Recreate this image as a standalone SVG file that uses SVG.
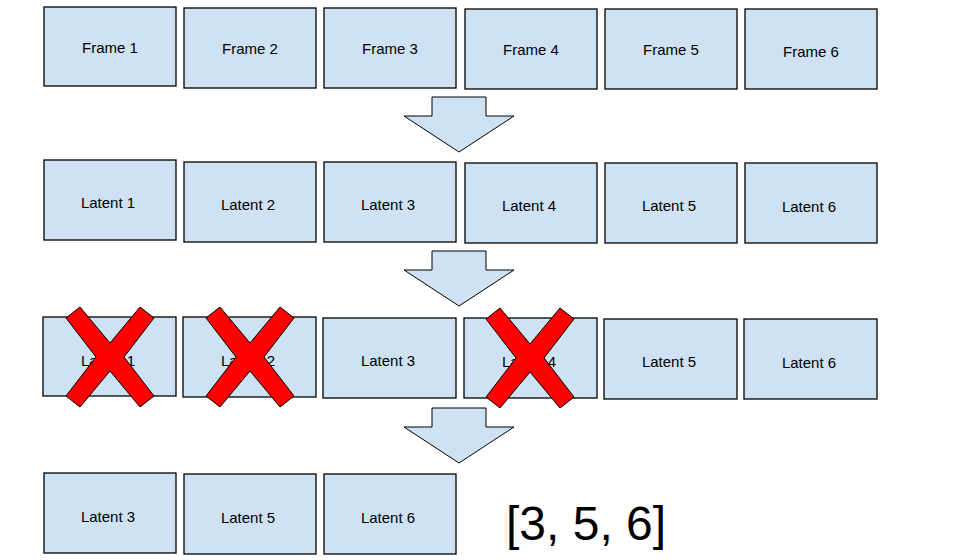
<svg xmlns="http://www.w3.org/2000/svg" width="960" height="560" viewBox="0 0 960 560">
<style>
.b rect{fill:#cfe2f3;stroke:#000;stroke-width:1.3}
.b text{font-family:"Liberation Sans",Arial,sans-serif;font-size:15px;text-anchor:middle;fill:#000}
.ar{fill:#cfe2f3;stroke:#000;stroke-width:1}
.x{fill:#f00;stroke:#000;stroke-width:1}
</style>
<defs>
<polygon id="X" class="x" points="-30,-50 0,-14 30,-50 44,-39 14,0 44,39 30,50 0,14 -30,50 -44,39 -14,0 -44,-39"/>
<polygon id="A" class="ar" points="-27,0 27,0 27,19 55,19 0,55 -55,19 -27,19"/>
</defs>
<rect width="960" height="560" fill="#fff"/>
<g id="row1">
<g id="f1" class="b"><rect x="44" y="7" width="132" height="79"/><text x="110" y="53">Frame 1</text></g>
<g id="f2" class="b"><rect x="184" y="8" width="132" height="80"/><text x="250" y="54">Frame 2</text></g>
<g id="f3" class="b"><rect x="324" y="8" width="132" height="80"/><text x="390" y="54">Frame 3</text></g>
<g id="f4" class="b"><rect x="465" y="9" width="132" height="80"/><text x="531" y="55">Frame 4</text></g>
<g id="f5" class="b"><rect x="605" y="9" width="132" height="80"/><text x="671" y="55">Frame 5</text></g>
<g id="f6" class="b"><rect x="745" y="9" width="132" height="80"/><text x="811" y="57">Frame 6</text></g>
</g>
<g id="row2">
<g id="l1" class="b"><rect x="44" y="160" width="132" height="80"/><text x="108" y="208">Latent 1</text></g>
<g id="l2" class="b"><rect x="184" y="162" width="132" height="80"/><text x="248" y="210">Latent 2</text></g>
<g id="l3" class="b"><rect x="324" y="162" width="132" height="80"/><text x="388" y="210">Latent 3</text></g>
<g id="l4" class="b"><rect x="465" y="163" width="132" height="80"/><text x="529" y="211">Latent 4</text></g>
<g id="l5" class="b"><rect x="605" y="163" width="132" height="80"/><text x="669" y="211">Latent 5</text></g>
<g id="l6" class="b"><rect x="745" y="163" width="132" height="80"/><text x="809" y="212">Latent 6</text></g>
</g>
<g id="row3">
<g id="m1" class="b"><rect x="43" y="317" width="133" height="79"/><text x="108" y="366">Latent 1</text></g>
<g id="m2" class="b"><rect x="183" y="317" width="133" height="80"/><text x="248" y="366">Latent 2</text></g>
<g id="m3" class="b"><rect x="323" y="318" width="133" height="80"/><text x="388" y="366">Latent 3</text></g>
<g id="m4" class="b"><rect x="464" y="318" width="133" height="80"/><text x="529" y="367">Latent 4</text></g>
<g id="m5" class="b"><rect x="604" y="319" width="133" height="80"/><text x="669" y="367">Latent 5</text></g>
<g id="m6" class="b"><rect x="744" y="319" width="133" height="80"/><text x="809" y="368">Latent 6</text></g>
</g>
<g id="crosses">
<use href="#X" x="110" y="357"/>
<use href="#X" x="250" y="357"/>
<use href="#X" x="530" y="358"/>
</g>
<g id="row4">
<g id="n1" class="b"><rect x="44" y="473" width="132" height="80"/><text x="108" y="522">Latent 3</text></g>
<g id="n2" class="b"><rect x="184" y="474" width="132" height="80"/><text x="248" y="523">Latent 5</text></g>
<g id="n3" class="b"><rect x="324" y="474" width="132" height="80"/><text x="388" y="523">Latent 6</text></g>
</g>
<g id="connectors">
<use href="#A" x="459" y="97"/>
<use href="#A" x="459" y="251"/>
<use href="#A" x="459" y="408"/>
</g>
<text x="506" y="540" font-family="Liberation Sans,Arial,sans-serif" font-size="48">[3, 5, 6]</text>
</svg>
